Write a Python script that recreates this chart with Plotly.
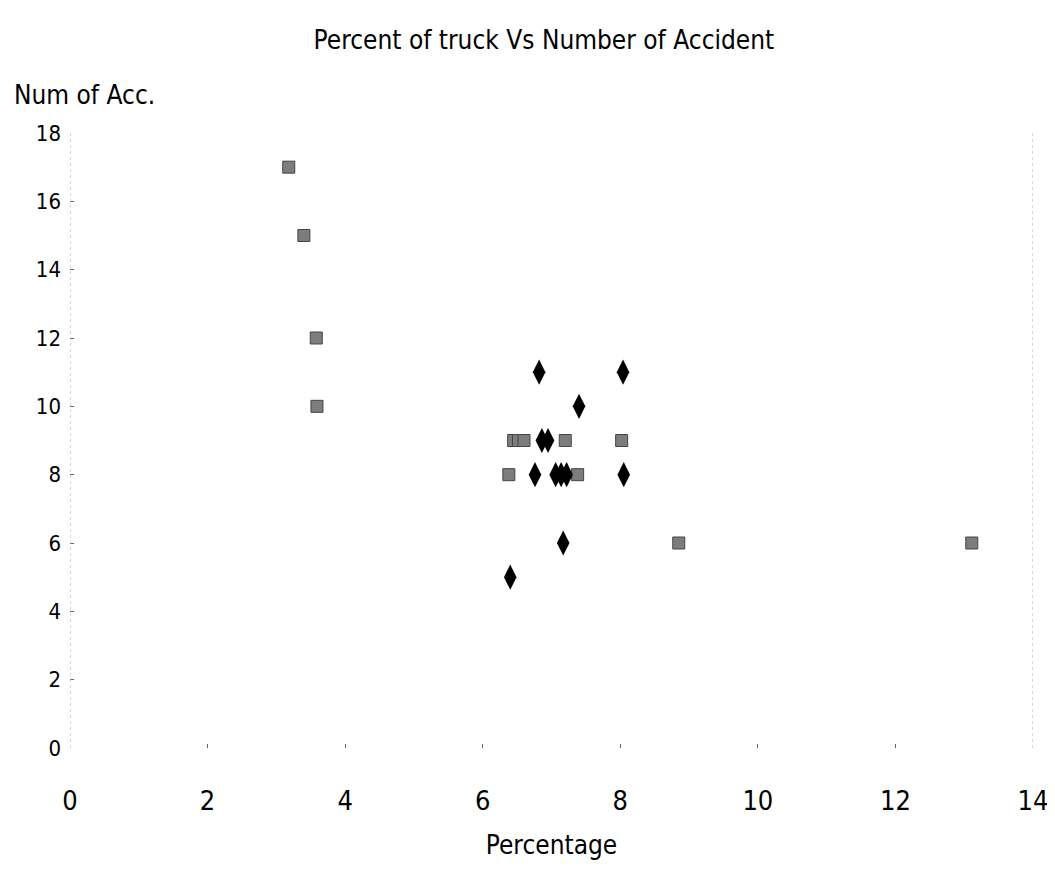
import plotly.graph_objects as go

# Series A (black diamonds)
diamond_x = [6.82, 8.04, 7.40, 6.86, 6.95, 6.76, 7.06, 7.14, 7.22, 8.05, 7.17, 6.40]
diamond_y = [11, 11, 10, 9, 9, 8, 8, 8, 8, 8, 6, 5]
# Series B (grey hatched markers)
hatch_x = [3.18, 3.40, 3.58, 3.59, 6.45, 6.52, 6.60, 7.20, 8.02, 6.38, 7.38, 8.85, 13.11]
hatch_y = [17, 15, 12, 10, 9, 9, 9, 9, 9, 8, 8, 6, 6]

x_ticks = [0, 2, 4, 6, 8, 10, 12, 14]
y_ticks = [0, 2, 4, 6, 8, 10, 12, 14, 16, 18]

NARROW = "DejaVu Sans Condensed, Liberation Sans, sans-serif"

fig = go.Figure()
fig.add_trace(go.Scatter(
    x=hatch_x, y=hatch_y, mode="markers",
    marker=dict(symbol="square", size=12, color="#7d7d7d",
                line=dict(color="#444444", width=1)),
    cliponaxis=False, showlegend=False))
fig.add_trace(go.Scatter(
    x=diamond_x, y=diamond_y, mode="markers",
    marker=dict(symbol="diamond-tall", size=18, color="black"),
    cliponaxis=False, showlegend=False))

# faint dotted frame lines on left and right
for xv in (0, 14):
    fig.add_shape(type="line", x0=xv, x1=xv, y0=0, y1=18, xref="x", yref="y",
                  line=dict(color="#b0b0b0", width=1, dash="dot"))

fig.update_layout(
    width=1055, height=874,
    paper_bgcolor="white", plot_bgcolor="white",
    margin=dict(l=62, r=30, t=125, b=134),
    title=dict(text="Percent of truck Vs Number of Accident", x=0.508, xanchor="center",
               y=0.964, yanchor="middle",
               font=dict(family=NARROW, size=26, color="black")),
    xaxis=dict(range=[0, 14], tickvals=x_ticks, showgrid=False, zeroline=False,
               showline=False, ticks="inside", ticklen=4, tickcolor="#666",
               ticklabelstandoff=34,
               tickfont=dict(family=NARROW, size=27, color="black"),
               title=dict(text="Percentage", standoff=20,
                          font=dict(family=NARROW, size=26, color="black"))),
    yaxis=dict(range=[0, 18], tickvals=y_ticks, showgrid=False, zeroline=False,
               showline=False, ticks="inside", ticklen=4, tickcolor="#666",
               ticklabelstandoff=8,
               tickfont=dict(family=NARROW, size=22, color="black")),
    annotations=[dict(text="Num of Acc.", xref="paper", yref="paper",
                      x=-58 / 963, y=(748 - 95) / 615, xanchor="left",
                      yanchor="middle", showarrow=False,
                      font=dict(family=NARROW, size=26, color="black"))],
)

fig.write_html("out.html")
